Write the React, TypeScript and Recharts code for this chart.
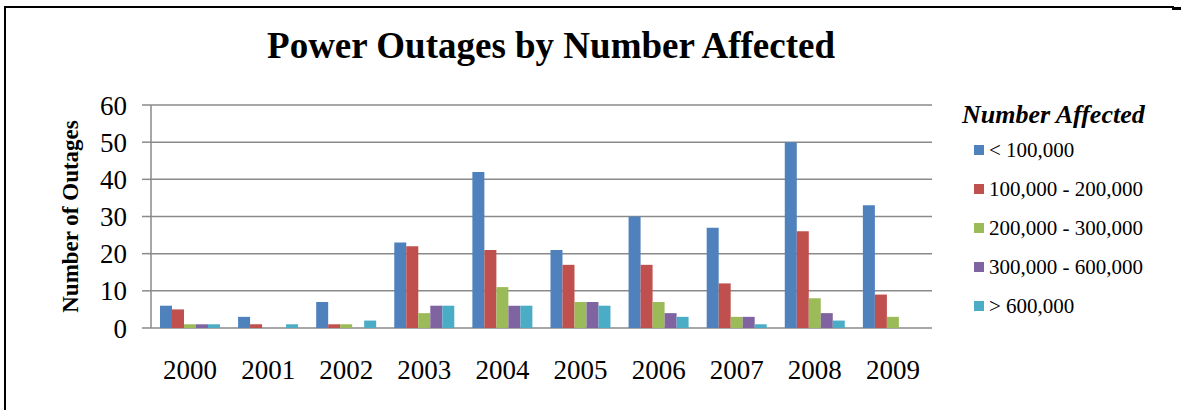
import React from 'react';
import { BarChart, Bar, XAxis, YAxis, CartesianGrid, Legend, Customized } from 'recharts';

const years = ['2000', '2001', '2002', '2003', '2004', '2005', '2006', '2007', '2008', '2009'];
const under100k = [6, 3, 7, 23, 42, 21, 30, 27, 50, 33];
const r100to200k = [5, 1, 1, 22, 21, 17, 17, 12, 26, 9];
const r200to300k = [1, 0, 1, 4, 11, 7, 7, 3, 8, 3];
const r300to600k = [1, 0, 0, 6, 6, 7, 4, 3, 4, 0];
const over600k = [1, 1, 2, 6, 6, 6, 3, 1, 2, 0];
const yTicks = [0, 10, 20, 30, 40, 50, 60];
const boundaryTicks = [0, 1, 2, 3, 4, 5, 6, 7, 8, 9, 10];

const seriesNames = ['< 100,000', '100,000 - 200,000', '200,000 - 300,000', '300,000 - 600,000', '> 600,000'];
const seriesColors = ['#4F81BD', '#C0504D', '#9BBB59', '#8064A2', '#4BACC6'];
const seriesValues = [under100k, r100to200k, r200to300k, r300to600k, over600k];

const data = years.map((y, i) => {
  const row: Record<string, string | number> = { year: y };
  seriesNames.forEach((n, s) => {
    row['s' + s] = seriesValues[s][i];
  });
  return row;
});

const FONT = '"Liberation Serif", "Times New Roman", serif';
const GRID = '#8a8a8a';

const LegendContent = () => {
  return (
    <svg width={240} height={240} style={{ display: 'block', fontFamily: FONT }}>
      <text x={22} y={33} style={{ fontFamily: FONT }} fontSize={26} fontWeight="bold" fontStyle="italic" fill="#000">
        Number Affected
      </text>
      {seriesNames.map((name, i) => {
        const base = 67 + i * 39;
        return (
          <g key={i}>
            <rect x={34} y={base - 12} width={10} height={10} fill={seriesColors[i]} />
            <text x={49} y={base} style={{ fontFamily: FONT }} fontSize={21} fill="#000">
              {name}
            </text>
          </g>
        );
      })}
    </svg>
  );
};

const Title = () => (
  <text x={551} y={58} textAnchor="middle" style={{ fontFamily: FONT }} fontSize={37} fontWeight="bold" fill="#000">
    Power Outages by Number Affected
  </text>
);

export default function App() {
  return (
    <div style={{ position: 'absolute', left: 0, top: 0, width: 1181, height: 410, background: '#fff' }}>
      <div style={{ position: 'absolute', left: 4, top: 6, width: 1168, height: 404, borderTop: '2px solid #000', borderLeft: '2px solid #000' }} />
      <div style={{ position: 'absolute', left: 1172, top: 7, width: 9, height: 3, background: '#000' }} />
      <div style={{ position: 'absolute', left: 0, top: 0 }}>
        <BarChart
          width={1181}
          height={410}
          data={data}
          margin={{ top: 105, right: 249, bottom: 22, left: 0 }}
          barCategoryGap="11.5%"
          barGap={0}
        >
          <CartesianGrid vertical={false} stroke={GRID} strokeWidth={1.5} xAxisId="cat" />
          <XAxis
            xAxisId="ticks"
            type="number"
            domain={[0, 10]}
            allowDataOverflow
            ticks={boundaryTicks}
            interval={0}
            height={0}
            tickFormatter={() => ''}
            axisLine={{ stroke: GRID, strokeWidth: 1.5 }}
            tickLine={{ stroke: GRID, strokeWidth: 1.5 }}
            tickSize={8}
          />
          <XAxis
            xAxisId="cat"
            dataKey="year"
            height={60}
            axisLine={false}
            tickLine={false}
            tickSize={0}
            tickMargin={32}
            interval={0}
            tick={{ fontFamily: FONT, fontSize: 27, fill: '#000' }}
          />
          <YAxis
            width={151}
            domain={[0, 60]}
            ticks={yTicks}
            interval={0}
            axisLine={{ stroke: GRID, strokeWidth: 1.5 }}
            tickLine={{ stroke: GRID, strokeWidth: 1.5 }}
            tickSize={9}
            tickMargin={15}
            tick={{ fontFamily: FONT, fontSize: 27, fill: '#000' }}
            label={{
              value: 'Number of Outages',
              angle: -90,
              position: 'center',
              dx: -6,
              style: { fontFamily: FONT, fontSize: 23, fontWeight: 'bold', fill: '#000' },
            }}
          />
          <Legend
            layout="horizontal"
            verticalAlign="middle"
            align="center"
            content={<LegendContent />}
            wrapperStyle={{ position: 'absolute', left: 940, top: 90, width: 240, height: 240 }}
          />
          {seriesNames.map((n, s) => (
            <Bar
              key={n}
              xAxisId="cat"
              dataKey={'s' + s}
              name={n}
              fill={seriesColors[s]}
              isAnimationActive={false}
            />
          ))}
          <Customized component={Title} />
        </BarChart>
      </div>
    </div>
  );
}
